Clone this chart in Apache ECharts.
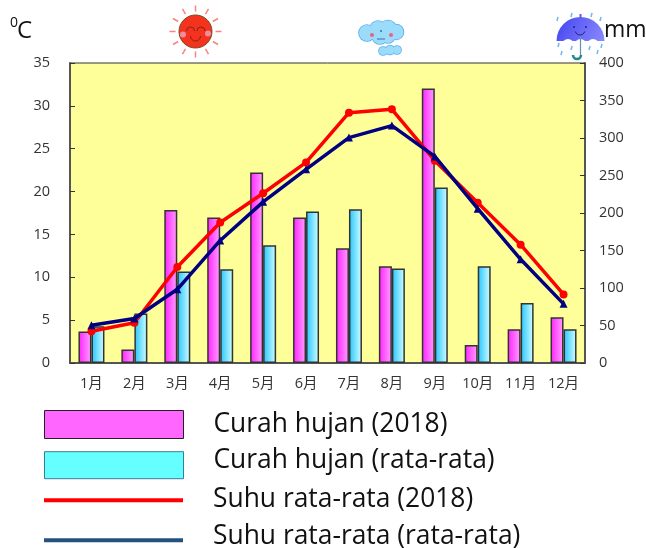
<!DOCTYPE html>
<html>
<head>
<meta charset="utf-8">
<style>
  html, body { margin: 0; padding: 0; background: #fff; }
  #chart { width: 646px; height: 548px; }
</style>
<script src="https://cdn.jsdelivr.net/npm/echarts@6/dist/echarts.min.js"></script>
</head>
<body>
<div id="chart"></div>
<script>
const months = ['1月', '2月', '3月', '4月', '5月', '6月', '7月', '8月', '9月', '10月', '11月', '12月']
const rain2018 = [42, 18, 204, 194, 254, 194, 153, 129, 366, 24, 45, 61]
const rainAvg = [49, 66, 122, 125, 157, 202, 205, 126, 234, 129, 80, 45]
const temp2018 = [3.7, 4.7, 11.2, 16.4, 19.8, 23.4, 29.2, 29.6, 23.6, 18.7, 13.8, 8.0]
const tempAvg = [4.4, 5.2, 8.6, 14.3, 18.8, 22.6, 26.3, 27.7, 24.1, 18.0, 12.1, 6.9]

const labelFont = '"Open Sans", "Noto Sans CJK JP", sans-serif'
const axisColor = '#555'

const chart = echarts.init(document.getElementById('chart'), null, { renderer: 'canvas' })

const barGradient = (from, to) => new echarts.graphic.LinearGradient(0, 0, 1, 0, [
  { offset: 0, color: from },
  { offset: 1, color: to }
])

// text sits a little above the swatch on some rows, the rich token padding does that
const legendRow = (top, height, lift, item) => ({
  left: 44,
  top,
  padding: 0,
  orient: 'vertical',
  itemWidth: 139,
  itemHeight: height,
  icon: 'rect',
  formatter: '{t|{name}}',
  textStyle: {
    rich: {
      t: { fontFamily: labelFont, fontSize: 26.4, color: '#111', padding: [0, 0, lift, 25] }
    }
  },
  data: [item]
})

// the three little pictures above the plot
const sunRays = [0, 30, 60, 90, 120, 150, 180, 210, 240, 270, 300, 330].map(a => {
  const r = a * Math.PI / 180
  return {
    type: 'line',
    shape: {
      x1: 195.5 + Math.cos(r) * 20, y1: 31.5 + Math.sin(r) * 20,
      x2: 195.5 + Math.cos(r) * 26, y2: 31.5 + Math.sin(r) * 26
    },
    style: { stroke: '#ff7f7f', lineWidth: 1.5 }
  }
})

const sun = [
  ...sunRays,
  { type: 'circle', shape: { cx: 195.5, cy: 31.5, r: 16.5 }, style: { fill: '#f5321e', stroke: '#7a4a20', lineWidth: 1 } },
  { type: 'circle', shape: { cx: 183, cy: 34.5, r: 3 }, style: { fill: '#f08ca0' } },
  { type: 'circle', shape: { cx: 208, cy: 33.5, r: 3 }, style: { fill: '#f08ca0' } },
  { type: 'arc', shape: { cx: 190.5, cy: 31, r: 4, startAngle: Math.PI, endAngle: 2 * Math.PI }, style: { stroke: '#7a2a10', fill: null, lineWidth: 1 } },
  { type: 'arc', shape: { cx: 201, cy: 31, r: 4, startAngle: Math.PI, endAngle: 2 * Math.PI }, style: { stroke: '#7a2a10', fill: null, lineWidth: 1 } },
  { type: 'arc', shape: { cx: 195.5, cy: 36, r: 5, startAngle: 0, endAngle: Math.PI }, style: { stroke: '#7a2a10', fill: null, lineWidth: 1 } }
]

const cloudBlobs = [[367, 33, 8], [378, 29, 8], [388, 29, 8.5], [396, 32, 7.5], [380, 36, 8], [388, 36, 7], [383, 51, 4], [390, 50, 4.5], [397, 50, 4]]
const cloud = [
  ...cloudBlobs.map(b => ({ type: 'circle', shape: { cx: b[0], cy: b[1], r: b[2] + 0.8 }, style: { fill: '#5aa8ec' } })),
  ...cloudBlobs.map(b => ({ type: 'circle', shape: { cx: b[0], cy: b[1], r: b[2] }, style: { fill: '#9adcfa' } })),
  { type: 'circle', shape: { cx: 372, cy: 35, r: 2 }, style: { fill: '#ee6080' } },
  { type: 'circle', shape: { cx: 391, cy: 35, r: 2 }, style: { fill: '#ee6080' } },
  { type: 'circle', shape: { cx: 381, cy: 31, r: 1 }, style: { fill: '#3a70b0' } },
  { type: 'line', shape: { x1: 377, y1: 39, x2: 385, y2: 39 }, style: { stroke: '#3a70b0', lineWidth: 1 } }
]

const umbrella = [
  {
    type: 'sector',
    shape: { cx: 580.5, cy: 41, r: 24, startAngle: Math.PI, endAngle: 2 * Math.PI },
    style: {
      fill: new echarts.graphic.LinearGradient(0, 0, 1, 1, [
        { offset: 0, color: '#4444f0' },
        { offset: 1, color: '#8a8aff' }
      ])
    }
  },
  { type: 'line', shape: { x1: 580.5, y1: 14, x2: 580.5, y2: 18 }, style: { stroke: '#5a5af0', lineWidth: 2 } },
  // bites out of the lower edge give the scallops
  { type: 'circle', shape: { cx: 568, cy: 45, r: 6 }, style: { fill: '#fff' } },
  { type: 'circle', shape: { cx: 580.5, cy: 45, r: 6 }, style: { fill: '#fff' } },
  { type: 'circle', shape: { cx: 593, cy: 45, r: 6 }, style: { fill: '#fff' } },
  { type: 'line', shape: { x1: 580.5, y1: 36, x2: 580.5, y2: 56 }, style: { stroke: '#6090c0', lineWidth: 1.2 } },
  { type: 'arc', shape: { cx: 577, cy: 55, r: 4, startAngle: 0, endAngle: Math.PI }, style: { stroke: '#1f8a8a', fill: null, lineWidth: 2.5 } },
  { type: 'circle', shape: { cx: 574, cy: 27, r: 1 }, style: { fill: '#202080' } },
  { type: 'circle', shape: { cx: 586, cy: 27, r: 1 }, style: { fill: '#202080' } },
  { type: 'arc', shape: { cx: 580, cy: 30, r: 5, startAngle: 0.3, endAngle: Math.PI - 0.3 }, style: { stroke: '#202080', fill: null, lineWidth: 1 } },
  ...[[557, 17], [571, 13], [591, 13], [600, 17], [558, 43], [561, 51], [571, 46], [589, 46], [597, 50], [601, 44]].map(d => ({
    type: 'line',
    shape: { x1: d[0] + 1, y1: d[1], x2: d[0], y2: d[1] + 4 },
    style: { stroke: '#70b8ee', lineWidth: 1.5 }
  }))
]

const option = {
  animation: false,
  grid: {
    left: 70,
    right: 61,
    top: 63,
    bottom: 185,
    show: true,
    backgroundColor: '#ffff99',
    borderColor: '#333',
    borderWidth: 1
  },
  legend: [
    legendRow(410, 28, 0, { name: 'Curah hujan (2018)', itemStyle: { color: '#ff66ff', borderColor: '#222', borderWidth: 1 } }),
    legendRow(447, 27, 10, { name: 'Curah hujan (rata-rata)', itemStyle: { color: '#66ffff', borderColor: '#3a7a9a', borderWidth: 1 } }),
    legendRow(486, 4, 2, { name: 'Suhu rata-rata (2018)', itemStyle: { color: '#ff0000', borderWidth: 0 } }),
    legendRow(523, 4, 8, { name: 'Suhu rata-rata (rata-rata)', itemStyle: { color: '#24527f', borderWidth: 0 } })
  ],
  xAxis: {
    type: 'category',
    data: months,
    axisLine: { lineStyle: { color: axisColor, width: 2 } },
    axisTick: { inside: true, length: 5, lineStyle: { color: '#333' } },
    axisLabel: { fontFamily: labelFont, fontSize: 14.5, color: '#333', margin: 14, interval: 0 }
  },
  yAxis: [
    {
      type: 'value',
      min: 0,
      max: 35,
      interval: 5,
      position: 'left',
      axisLine: { show: true, lineStyle: { color: axisColor, width: 2 } },
      axisTick: { show: true, inside: true, length: 5, lineStyle: { color: '#333' } },
      axisLabel: { fontFamily: labelFont, fontSize: 14.5, color: '#333', margin: 20 },
      splitLine: { show: false }
    },
    {
      type: 'value',
      min: 0,
      max: 400,
      interval: 50,
      position: 'right',
      axisLine: { show: true, lineStyle: { color: axisColor, width: 2 } },
      axisTick: { show: true, inside: true, length: 5, lineStyle: { color: '#333' } },
      axisLabel: { fontFamily: labelFont, fontSize: 14.5, color: '#333', margin: 14 },
      splitLine: { show: false }
    }
  ],
  series: [
    {
      name: 'Curah hujan (2018)',
      type: 'bar',
      yAxisIndex: 1,
      data: rain2018,
      barWidth: 13,
      barGap: 0,
      itemStyle: { color: barGradient('#ff22ff', '#ffa0ff'), borderColor: '#333', borderWidth: 1.5 }
    },
    {
      name: 'Curah hujan (rata-rata)',
      type: 'bar',
      yAxisIndex: 1,
      data: rainAvg,
      barWidth: 13,
      itemStyle: { color: barGradient('#22c4ff', '#d4ffff'), borderColor: '#333', borderWidth: 1.5 }
    },
    {
      name: 'Suhu rata-rata (2018)',
      type: 'line',
      yAxisIndex: 0,
      data: temp2018,
      symbol: 'circle',
      symbolSize: 8,
      lineStyle: { color: '#ff0000', width: 3.5 },
      itemStyle: { color: '#ff0000' },
      z: 3
    },
    {
      name: 'Suhu rata-rata (rata-rata)',
      type: 'line',
      yAxisIndex: 0,
      data: tempAvg,
      symbol: 'triangle',
      symbolSize: 8,
      lineStyle: { color: '#000080', width: 3.5 },
      itemStyle: { color: '#000080' },
      z: 4
    }
  ],
  graphic: [
    { type: 'group', silent: true, children: sun },
    { type: 'group', silent: true, children: cloud },
    { type: 'group', silent: true, children: umbrella },
    { type: 'text', left: 10, top: 16, style: { text: '0', font: '14px ' + labelFont, fill: '#111' } },
    { type: 'text', left: 17, top: 19, style: { text: 'C', font: '24px ' + labelFont, fill: '#111' } },
    { type: 'text', left: 604, top: 19, style: { text: 'mm', font: '23px ' + labelFont, fill: '#111' } }
  ]
}

chart.setOption(option)
</script>
</body>
</html>
